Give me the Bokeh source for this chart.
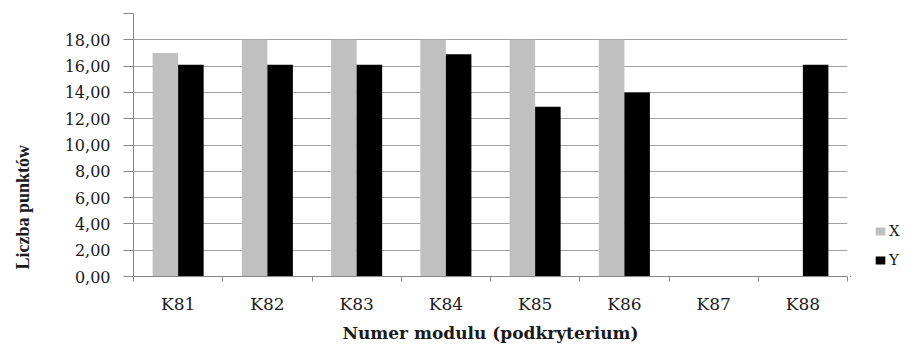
import math
from bokeh.plotting import figure
from bokeh.models import ColumnDataSource, FixedTicker, Range1d, Legend, LegendItem, Label
from bokeh.layouts import row
from bokeh.transform import dodge
from bokeh.embed import file_html
from bokeh.resources import INLINE

categories = ["K81", "K82", "K83", "K84", "K85", "K86", "K87", "K88"]
x_values = [17.0, 18.0, 18.0, 18.0, 18.0, 18.0, 0.0, 0.0]
y_values = [16.1, 16.1, 16.1, 16.9, 12.9, 14.0, 0.0, 16.1]
y_ticks = [0, 2, 4, 6, 8, 10, 12, 14, 16, 18, 20]
y_tick_labels = ["0,00", "2,00", "4,00", "6,00", "8,00", "10,00", "12,00",
                 "14,00", "16,00", "18,00", ""]
series_names = ["X", "Y"]
series_colors = ["#c0c0c0", "#000000"]

centers = [i + 0.5 for i in range(len(categories))]
bounds = list(range(len(categories) + 1))

src = ColumnDataSource(dict(pos=centers, X=x_values, Y=y_values, cat=categories))

H = 345

# narrow strip on the left carrying the y-axis title
lt = figure(width=40, height=H, output_backend="svg", toolbar_location=None,
            x_range=Range1d(0, 1), y_range=Range1d(0, 1),
            min_border_left=0, min_border_right=0, min_border_top=0,
            min_border_bottom=0)
lt.axis.visible = False
lt.grid.grid_line_color = None
lt.outline_line_color = None
lt.add_layout(Label(x=22, y=7, x_units="screen", y_units="screen",
                    text="Liczba punktów", angle=math.pi / 2,
                    text_align="left", text_baseline="middle",
                    text_font="Liberation Serif", text_font_style="bold",
                    text_font_size="18px", text_color="#1a1a1a"))

p = figure(width=810, height=H, output_backend="svg", toolbar_location=None,
           x_range=Range1d(0, len(categories)), y_range=Range1d(0, 20),
           min_border_left=93, min_border_right=3, min_border_top=13,
           min_border_bottom=67)
p.outline_line_color = None
p.background_fill_color = "white"
p.border_fill_color = "white"

bw = 0.286
p.vbar(x=dodge("pos", -bw / 2, range=p.x_range), top="X", width=bw,
       source=src, fill_color=series_colors[0], line_color=None)
p.vbar(x=dodge("pos", bw / 2, range=p.x_range), top="Y", width=bw,
       source=src, fill_color=series_colors[1], line_color=None)

# x axis
p.xaxis.ticker = FixedTicker(ticks=centers, minor_ticks=bounds)
p.xaxis.major_label_overrides = {c: lab for c, lab in zip(centers, categories)}
p.xaxis.major_tick_out = 0
p.xaxis.major_tick_in = 0
p.xaxis.minor_tick_out = 5
p.xaxis.minor_tick_in = 0
p.xaxis.minor_tick_line_color = "#888888"
p.xaxis.axis_line_color = "#888888"
p.xaxis.major_label_standoff = 12
p.xaxis.major_label_text_font = "DejaVu Serif"
p.xaxis.major_label_text_font_size = "17px"
p.xaxis.major_label_text_color = "#1a1a1a"
p.xaxis.axis_label = "Numer modulu (podkryterium)"
p.xaxis.axis_label_text_font = "DejaVu Serif"
p.xaxis.axis_label_text_font_style = "bold"
p.xaxis.axis_label_text_font_size = "17px"
p.xaxis.axis_label_standoff = 6
p.xaxis.axis_label_text_color = "#1a1a1a"

# y axis
p.yaxis.ticker = FixedTicker(ticks=y_ticks)
p.yaxis.major_label_overrides = {t: lab for t, lab in zip(y_ticks, y_tick_labels)}
p.yaxis.major_tick_out = 10
p.yaxis.major_tick_in = 0
p.yaxis.minor_tick_line_color = None
p.yaxis.major_tick_line_color = "#888888"
p.yaxis.axis_line_color = "#888888"
p.yaxis.major_label_standoff = 13
p.yaxis.major_label_text_font = "DejaVu Serif"
p.yaxis.major_label_text_font_size = "16px"
p.yaxis.major_label_text_color = "#1a1a1a"

p.xgrid.grid_line_color = None
p.ygrid.ticker = FixedTicker(ticks=y_ticks)
p.ygrid.grid_line_color = "#a0a0a0"
p.ygrid.grid_line_width = 1

# legend panel (separate small figure to the right; its bars lie out of view)
lf = figure(width=66, height=H, output_backend="svg", toolbar_location=None,
            x_range=Range1d(100, 101), y_range=Range1d(100, 101),
            min_border_left=0, min_border_right=0, min_border_top=0,
            min_border_bottom=0)
lf.axis.visible = False
lf.grid.grid_line_color = None
lf.outline_line_color = None
items = []
for name, col in zip(series_names, series_colors):
    r = lf.vbar(x="pos", top=name, width=0.01, source=src,
                fill_color=col, line_color=None)
    items.append(LegendItem(label=name, renderers=[r]))
legend = Legend(items=items, location=(24, 6), orientation="vertical",
                border_line_color=None, background_fill_alpha=0,
                padding=0, margin=0, spacing=9,
                glyph_width=12, glyph_height=10, label_height=20,
                label_standoff=3,
                label_text_font="DejaVu Serif", label_text_font_size="15px",
                label_text_color="#1a1a1a")
lf.add_layout(legend, "center")

layout = row(lt, p, lf)
open("out.html", "w").write(file_html(layout, INLINE))
